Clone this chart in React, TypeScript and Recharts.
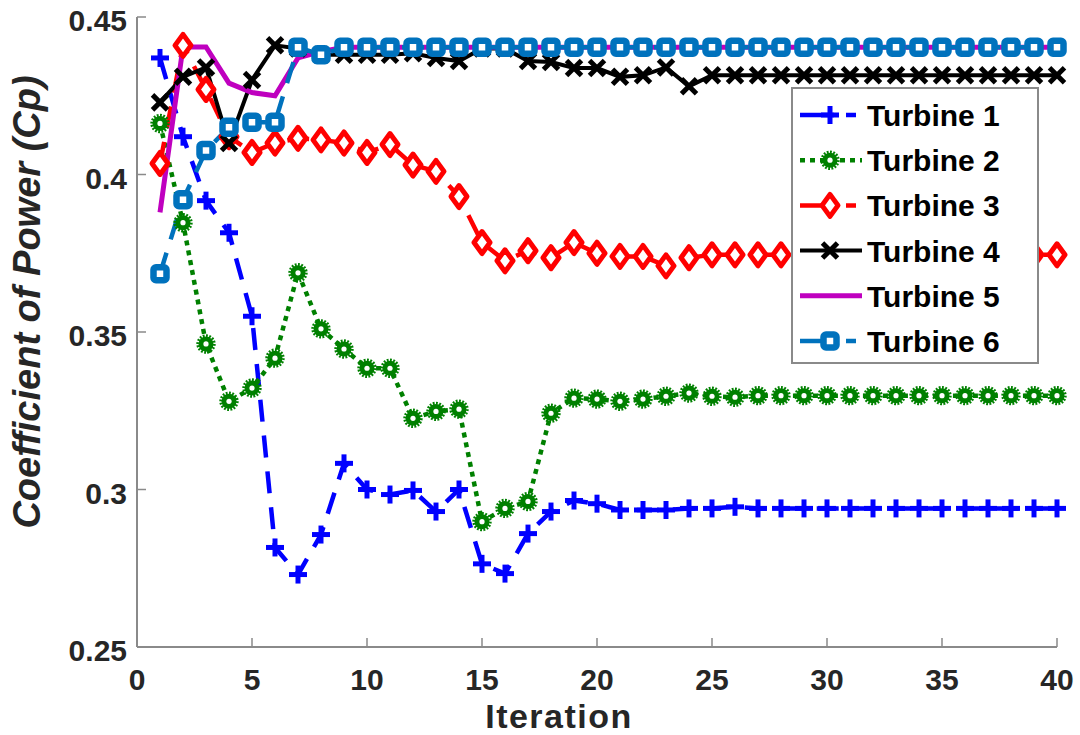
import React from 'react';
import { LineChart, Line, XAxis, YAxis, Label } from 'recharts';

const iterations = [1, 2, 3, 4, 5, 6, 7, 8, 9, 10, 11, 12, 13, 14, 15, 16, 17, 18, 19, 20,
  21, 22, 23, 24, 25, 26, 27, 28, 29, 30, 31, 32, 33, 34, 35, 36, 37, 38, 39, 40];

const turbine1 = [0.437, 0.412, 0.3917, 0.3815, 0.355, 0.2816, 0.273, 0.2857, 0.3083, 0.300,
  0.2984, 0.2997, 0.293, 0.300, 0.2764, 0.2733, 0.286, 0.293, 0.2965, 0.2955,
  0.2935, 0.2935, 0.2935, 0.294, 0.294, 0.2945, 0.294, 0.294, 0.294, 0.294,
  0.294, 0.294, 0.294, 0.294, 0.294, 0.294, 0.294, 0.294, 0.294, 0.294];

const turbine2 = [0.4162, 0.3847, 0.3462, 0.328, 0.3322, 0.3417, 0.3688, 0.351, 0.3446, 0.3385,
  0.3385, 0.3226, 0.3248, 0.3255, 0.2898, 0.294, 0.2962, 0.3242, 0.329, 0.3287,
  0.328, 0.3287, 0.3296, 0.3306, 0.3296, 0.3293, 0.3298, 0.3298, 0.3298, 0.3298,
  0.3298, 0.3298, 0.3298, 0.3298, 0.3298, 0.3298, 0.3298, 0.3298, 0.3298, 0.3298];

const turbine3 = [0.4035, 0.441, 0.427, 0.412, 0.407, 0.410, 0.4115, 0.411, 0.410, 0.407,
  0.4095, 0.403, 0.401, 0.393, 0.3784, 0.3726, 0.3758, 0.3736, 0.3784, 0.375,
  0.374, 0.374, 0.371, 0.3736, 0.3745, 0.3745, 0.3745, 0.3745, 0.3745, 0.3745,
  0.3745, 0.3745, 0.3745, 0.3745, 0.3745, 0.3745, 0.3745, 0.3745, 0.3745, 0.3745];

const turbine4 = [0.4229, 0.431, 0.434, 0.410, 0.430, 0.441, 0.440, 0.438, 0.438, 0.438,
  0.438, 0.4385, 0.437, 0.436, 0.440, 0.440, 0.436, 0.4357, 0.4338, 0.4338,
  0.431, 0.4315, 0.434, 0.428, 0.4315, 0.4315, 0.4315, 0.4315, 0.4315, 0.4315,
  0.4315, 0.4315, 0.4315, 0.4315, 0.4315, 0.4315, 0.4315, 0.4315, 0.4315, 0.4315];

const turbine5 = [0.388, 0.4405, 0.4405, 0.429, 0.426, 0.425, 0.437, 0.439, 0.4404, 0.4404,
  0.4404, 0.4404, 0.4404, 0.4404, 0.4404, 0.4404, 0.4404, 0.4404, 0.4404, 0.4404,
  0.4404, 0.4404, 0.4404, 0.4404, 0.4404, 0.4404, 0.4404, 0.4404, 0.4404, 0.4404,
  0.4404, 0.4404, 0.4404, 0.4404, 0.4404, 0.4404, 0.4404, 0.4404, 0.4404, 0.4404];

const turbine6 = [0.3685, 0.392, 0.4076, 0.415, 0.4166, 0.4166, 0.4404, 0.438, 0.4404, 0.4404,
  0.4404, 0.4404, 0.4404, 0.4404, 0.4404, 0.4404, 0.4404, 0.4404, 0.4404, 0.4404,
  0.4404, 0.4404, 0.4404, 0.4404, 0.4404, 0.4404, 0.4404, 0.4404, 0.4404, 0.4404,
  0.4404, 0.4404, 0.4404, 0.4404, 0.4404, 0.4404, 0.4404, 0.4404, 0.4404, 0.4404];

const xTicks = [0, 5, 10, 15, 20, 25, 30, 35, 40];
const yTicks = [0.25, 0.3, 0.35, 0.4, 0.45];
const seriesNames = ['Turbine 1', 'Turbine 2', 'Turbine 3', 'Turbine 4', 'Turbine 5', 'Turbine 6'];

const data = iterations.map((it, i) => ({
  it,
  t1: turbine1[i],
  t2: turbine2[i],
  t3: turbine3[i],
  t4: turbine4[i],
  t5: turbine5[i],
  t6: turbine6[i],
}));

const C1 = '#0000FF';
const C2 = '#008000';
const C3 = '#FF0000';
const C4 = '#000000';
const C5 = '#BF00BF';
const C6 = '#0072BD';
const AXIS = '#8a8a8a';
const FONT = '"Liberation Sans", Arial, Helvetica, sans-serif';

const plusShape = (cx: number, cy: number, k?: string) => (
  <g key={k}>
    <line x1={cx - 9} y1={cy} x2={cx + 9} y2={cy} stroke={C1} strokeWidth={5} />
    <line x1={cx} y1={cy - 9} x2={cx} y2={cy + 9} stroke={C1} strokeWidth={5} />
  </g>
);
const sunShape = (cx: number, cy: number, k?: string) => (
  <g key={k}>
    <circle cx={cx} cy={cy} r={7.5} fill={C2} />
    <circle cx={cx} cy={cy} r={8.2} fill="none" stroke={C2} strokeWidth={3} strokeDasharray="1.8 1.4" />
    <circle cx={cx} cy={cy} r={2.6} fill="#fff" />
  </g>
);
const diamondShape = (cx: number, cy: number, k?: string) => (
  <g key={k}>
    <polygon
      points={`${cx},${cy - 11} ${cx + 8},${cy} ${cx},${cy + 11} ${cx - 8},${cy}`}
      fill="#fff" stroke={C3} strokeWidth={5} strokeLinejoin="round"
    />
  </g>
);
const crossShape = (cx: number, cy: number, k?: string) => (
  <g key={k}>
    <line x1={cx - 7.5} y1={cy - 7.5} x2={cx + 7.5} y2={cy + 7.5} stroke={C4} strokeWidth={5} />
    <line x1={cx - 7.5} y1={cy + 7.5} x2={cx + 7.5} y2={cy - 7.5} stroke={C4} strokeWidth={5} />
  </g>
);
const squareShape = (cx: number, cy: number, k?: string) => (
  <g key={k}>
    <rect x={cx - 6.5} y={cy - 6.5} width={13} height={13} rx={2.5}
      fill="#fff" stroke={C6} strokeWidth={6.5} />
  </g>
);

const mkDot = (shape: (cx: number, cy: number, k?: string) => React.ReactElement, tag: string) =>
  (props: any) => {
    const { cx, cy, index } = props;
    if (cx == null || cy == null) return <g key={`${tag}${index}`} />;
    return shape(cx, cy, `${tag}${index}`);
  };

const XTick = (props: any) => {
  const { x, y, payload } = props;
  return (
    <text x={x} y={y + 52} textAnchor="middle" fontFamily={FONT} fontWeight="bold"
      fontSize={30} fill="#262626">
      {String(payload.value)}
    </text>
  );
};

const YTick = (props: any) => {
  const { x, y, payload } = props;
  return (
    <text x={x} y={y + 14} textAnchor="end" fontFamily={FONT} fontWeight="bold"
      fontSize={30} fill="#262626">
      {String(payload.value)}
    </text>
  );
};

const legendRows = [
  { name: seriesNames[0], color: C1, dash: '34 12 10', shape: plusShape, w: 4.5 },
  { name: seriesNames[1], color: C2, dash: '5 5', shape: sunShape, w: 4.5 },
  { name: seriesNames[2], color: C3, dash: '34 12 10', shape: diamondShape, w: 4.5 },
  { name: seriesNames[3], color: C4, dash: undefined, shape: crossShape, w: 4 },
  { name: seriesNames[4], color: C5, dash: undefined, shape: null, w: 5 },
  { name: seriesNames[5], color: C6, dash: '34 12 10', shape: squareShape, w: 4.5 },
];

const LegendBox = () => (
  <svg width={248} height={277} style={{ position: 'absolute', left: 791, top: 87 }}>
    <rect x={1} y={1} width={246} height={275} fill="#fff" stroke={AXIS} strokeWidth={2} />
    {legendRows.map((r, i) => {
      const cy = 28 + i * 45.2;
      return (
        <g key={r.name}>
          <line x1={9} y1={cy} x2={71} y2={cy} stroke={r.color} strokeWidth={r.w}
            strokeDasharray={r.dash} />
          {r.shape ? r.shape(39, cy, `lg${i}`) : null}
          <text x={76} y={cy + 11} fontFamily={FONT} fontWeight="bold" fontSize={30} fill="#000">
            {r.name}
          </text>
        </g>
      );
    })}
  </svg>
);

export default function App() {
  return (
    <div style={{ position: 'absolute', left: 0, top: 0, width: 1080, height: 735, background: '#fff' }}>
      <LineChart width={1080} height={735} data={data}
        margin={{ top: 17, right: 23, bottom: 0, left: 0 }}>
        <XAxis dataKey="it" type="number" domain={[0, 40]} ticks={xTicks}
          height={88} stroke={AXIS} strokeWidth={2} tickSize={-9} tickMargin={0}
          tickLine={{ stroke: AXIS, strokeWidth: 1.5 }} tick={<XTick />}>
          <Label content={() => (
            <text x={559} y={727.5} textAnchor="middle" fontFamily={FONT} fontWeight="bold"
              fontSize={34} letterSpacing={1.5} fill="#262626">Iteration</text>
          )} />
        </XAxis>
        <YAxis type="number" domain={[0.25, 0.45]} ticks={yTicks} width={137}
          stroke={AXIS} strokeWidth={2} tickSize={-9} tickMargin={19}
          tickLine={{ stroke: AXIS, strokeWidth: 1.5 }} tick={<YTick />}>
          <Label content={() => (
            <text x={40} y={302} transform="rotate(-90 40 302)" textAnchor="middle"
              fontFamily={FONT} fontWeight="bold" fontStyle="italic" fontSize={38} fill="#262626">
              Coefficient of Power (Cp)
            </text>
          )} />
        </YAxis>
        <Line dataKey="t1" name={seriesNames[0]} stroke={C1} strokeWidth={4.5}
          strokeDasharray="22 14" dot={mkDot(plusShape, 'a')} activeDot={false}
          isAnimationActive={false} />
        <Line dataKey="t2" name={seriesNames[1]} stroke={C2} strokeWidth={4.5}
          strokeDasharray="5 5" dot={mkDot(sunShape, 'b')} activeDot={false}
          isAnimationActive={false} />
        <Line dataKey="t3" name={seriesNames[2]} stroke={C3} strokeWidth={4.5}
          strokeDasharray="22 14" dot={mkDot(diamondShape, 'c')} activeDot={false}
          isAnimationActive={false} />
        <Line dataKey="t4" name={seriesNames[3]} stroke={C4} strokeWidth={4}
          dot={mkDot(crossShape, 'd')} activeDot={false}
          isAnimationActive={false} />
        <Line dataKey="t5" name={seriesNames[4]} stroke={C5} strokeWidth={5}
          dot={false} activeDot={false}
          isAnimationActive={false} />
        <Line dataKey="t6" name={seriesNames[5]} stroke={C6} strokeWidth={4.5}
          strokeDasharray="22 14" dot={mkDot(squareShape, 'e')} activeDot={false}
          isAnimationActive={false} />
      </LineChart>
      <LegendBox />
    </div>
  );
}
